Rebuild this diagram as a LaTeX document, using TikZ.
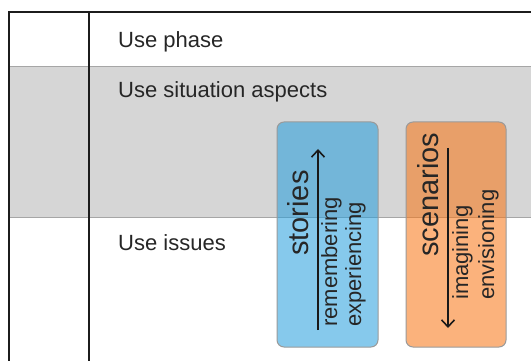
\documentclass[tikz,border=0pt]{standalone}
\usepackage{fontspec}
\setmainfont{Liberation Sans}
\usetikzlibrary{arrows.meta}
\definecolor{txt}{HTML}{262626}
\definecolor{band}{HTML}{D6D6D6}
\definecolor{bandline}{HTML}{A6A6A6}
\definecolor{frame}{HTML}{1C1C1C}
\definecolor{bluebox}{RGB}{35,157,220}
\definecolor{orangebox}{RGB}{248,115,17}
\definecolor{boxline}{HTML}{9A9A9A}
\tikzset{
  rowlabel/.style={anchor=base west, inner sep=0pt, text=txt, font=\fontsize{22}{26}\selectfont},
  bigword/.style={anchor=base west, inner sep=0pt, rotate=90, text=txt, font=\fontsize{29}{33}\selectfont},
  smallword/.style={anchor=base west, inner sep=0pt, rotate=90, text=txt, font=\fontsize{22}{26}\selectfont},
  card/.style={draw=boxline, line width=1pt, rounded corners=7pt, fill opacity=0.55},
  flow/.style={line width=1.6pt, draw=black!90, -{Straight Barb[length=7pt,width=13pt,line width=1.6pt]}},
  frameline/.style={draw=frame, line width=1.8pt},
  sepline/.style={draw=bandline, line width=1pt}
}
\begin{document}
\begin{tikzpicture}[x=1pt,y=-1pt]
\useasboundingbox (0,0) rectangle (531,361);
% gray band
\fill[band] (9,67) rectangle (531,217);
\draw[sepline] (9,67) -- (531,67);
\draw[sepline] (9,217) -- (531,217);
% frame
\coordinate (tl) at (9,12);
\coordinate (tr) at (531,12);
\coordinate (bl) at (9,361);
\coordinate (ml) at (89,12);
\coordinate (mb) at (89,361);
\draw[frameline] (tr) -- (tl) -- (bl);
\draw[frameline] (ml) -- (mb);
% row labels
\node[rowlabel] (phase) at (118,48) {Use phase};
\node[rowlabel] (aspects) at (118,98) {Use situation aspects};
\node[rowlabel] (issues) at (118,250) {Use issues};
% cards
\path[card, fill=bluebox] (277,122) rectangle (378,347);
\path[card, fill=orangebox] (406,122) rectangle (506,347);
% texts
\node[bigword] (stories) at (308,256) {stories};
\node[smallword] (remembering) at (337,327) {remembering};
\node[smallword] (experiencing) at (361,327) {experiencing};
\node[bigword] (scenarios) at (438,257) {scenarios};
\node[smallword] (imagining) at (468,300) {imagining};
\node[smallword] (envisioning) at (494,300) {envisioning};
% arrows
\coordinate (sa) at (318,330);
\coordinate (sb) at (318,149);
\coordinate (ca) at (448,148);
\coordinate (cb) at (448,328);
\draw[flow] (sa) -- (sb);
\draw[flow] (ca) -- (cb);
\end{tikzpicture}
\end{document}
